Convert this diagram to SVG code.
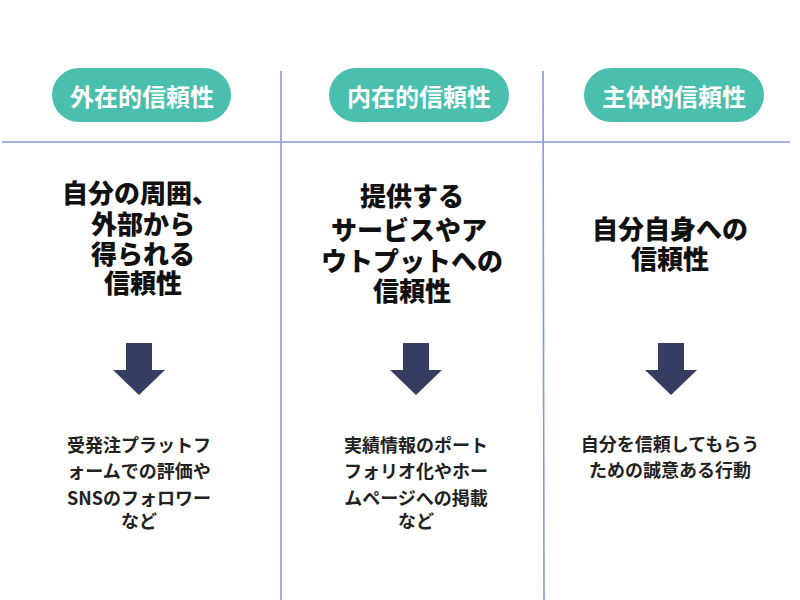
<svg xmlns="http://www.w3.org/2000/svg" width="800" height="600" viewBox="0 0 800 600">
<style>
.pill{fill:#4bbfae}
.pt{font-family:"Noto Sans CJK JP","Noto Sans",sans-serif;font-weight:700;font-size:24px;fill:#ffffff;text-anchor:middle;dominant-baseline:central}
.tt{font-family:"Noto Sans CJK JP","Noto Sans",sans-serif;font-weight:900;font-size:26px;fill:#111111;text-anchor:middle;dominant-baseline:central}
.bt{font-family:"Noto Sans CJK JP","Noto Sans",sans-serif;font-weight:700;font-size:18px;fill:#222222;text-anchor:middle;dominant-baseline:central}
.ln{stroke:#8896df;stroke-width:1.6;fill:none}
.arr{fill:#363d63}
</style>
<defs>
<path id="dn" d="M-13,0 H13 V27 H26 L0,52 L-26,27 H-13 Z"/>
</defs>
<rect width="800" height="600" fill="#ffffff"/>
<g id="connectors">
<line class="ln" x1="2" y1="142" x2="790" y2="142"/>
<line class="ln" x1="281" y1="71" x2="281" y2="600"/>
<line class="ln" x1="543" y1="71" x2="544" y2="600"/>
<use href="#dn" class="arr" x="139" y="343"/>
<use href="#dn" class="arr" x="416" y="343"/>
<use href="#dn" class="arr" x="671" y="343"/>
</g>
<g id="col1">
<rect class="pill" x="52" y="68" width="179" height="54" rx="27"/>
<text class="pt" x="142" y="95">外在的信頼性</text>
<text class="tt" x="141" y="191"><tspan x="140" y="191">自分の周囲、</tspan><tspan x="143" y="222">外部から</tspan><tspan x="143" y="252">得られる</tspan><tspan x="143" y="281">信頼性</tspan></text>
<text class="bt" x="139" y="444"><tspan x="139" y="444">受発注プラットフ</tspan><tspan x="139" y="470">ォームでの評価や</tspan><tspan x="139" y="497">SNSのフォロワー</tspan><tspan x="139" y="520">など</tspan></text>
</g>
<g id="col2">
<rect class="pill" x="329" y="68" width="180" height="54" rx="27"/>
<text class="pt" x="419" y="95">内在的信頼性</text>
<text class="tt" x="411" y="194"><tspan x="412" y="194">提供する</tspan><tspan x="409" y="228">サービスやア</tspan><tspan x="412" y="259">ウトプットへの</tspan><tspan x="412" y="289">信頼性</tspan></text>
<text class="bt" x="416" y="444"><tspan x="416" y="444">実績情報のポート</tspan><tspan x="416" y="470">フォリオ化やホー</tspan><tspan x="416" y="497">ムページへの掲載</tspan><tspan x="416" y="520">など</tspan></text>
</g>
<g id="col3">
<rect class="pill" x="584" y="68" width="180" height="54" rx="27"/>
<text class="pt" x="674" y="95">主体的信頼性</text>
<text class="tt" x="670" y="227"><tspan x="670" y="227">自分自身への</tspan><tspan x="670" y="257">信頼性</tspan></text>
<text class="bt" x="670" y="443"><tspan x="670" y="443">自分を信頼してもらう</tspan><tspan x="670" y="469">ための誠意ある行動</tspan></text>
</g>
</svg>
